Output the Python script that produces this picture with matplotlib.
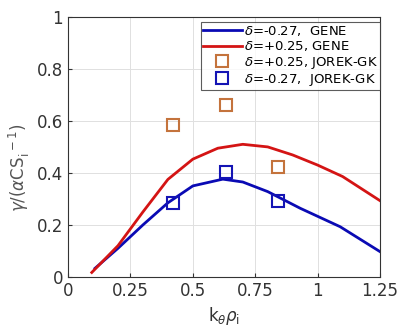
import matplotlib.pyplot as plt

# GENE curves
k_red = [0.095, 0.2, 0.3, 0.4, 0.5, 0.6, 0.7, 0.8, 0.9, 1.0, 1.1, 1.25]
g_red = [0.017, 0.12, 0.25, 0.375, 0.453, 0.495, 0.51, 0.50, 0.469, 0.43, 0.386, 0.293]
k_blue = [0.108, 0.2, 0.3, 0.4, 0.5, 0.62, 0.7, 0.8, 0.93, 1.09, 1.25]
g_blue = [0.033, 0.11, 0.20, 0.285, 0.35, 0.376, 0.365, 0.328, 0.264, 0.193, 0.097]

# JOREK-GK points
k_jorek = [0.42, 0.632, 0.843]
g_jorek_pos = [0.585, 0.66, 0.424]
g_jorek_neg = [0.283, 0.403, 0.293]

fig = plt.figure(figsize=(4.1, 3.32), dpi=100)
ax = fig.add_axes([0.166, 0.166, 0.761, 0.783])

ax.plot(k_blue, g_blue, color="#0a0ab4", lw=2, label=r"$\delta$=-0.27,  GENE")
ax.plot(k_red, g_red, color="#d41414", lw=2, label=r"$\delta$=+0.25, GENE")
ax.plot(k_jorek, g_jorek_pos, ls="none", marker="s", ms=9, mfc="none",
        mec="#c4733c", mew=1.5, label=r"$\delta$=+0.25, JOREK-GK")
ax.plot(k_jorek, g_jorek_neg, ls="none", marker="s", ms=9, mfc="none",
        mec="#1414b4", mew=1.5, label=r"$\delta$=-0.27,  JOREK-GK")

ax.set_xlim(0, 1.25)
ax.set_ylim(0, 1)
ax.set_xticks([0, 0.25, 0.5, 0.75, 1, 1.25])
ax.set_xticklabels(["0", "0.25", "0.5", "0.75", "1", "1.25"])
ax.set_yticks([0, 0.2, 0.4, 0.6, 0.8, 1])
ax.set_yticklabels(["0", "0.2", "0.4", "0.6", "0.8", "1"])
ax.tick_params(direction="in", labelsize=12, colors="#333333", length=3)
for s in ax.spines.values():
    s.set_color("#333333")
    s.set_linewidth(0.8)
ax.grid(True, color="#e0e0e0", lw=0.7)

ax.set_xlabel(r"k$_\theta\rho_{\rm i}$", fontsize=12, color="#333333", labelpad=4)
ax.set_ylabel(r"$\gamma$/($\alpha$CS$_{\rm i}^{\ -1}$)", fontsize=12, color="#555555")
ax.yaxis.set_label_coords(-0.115, 0.42)

leg = ax.legend(loc="upper right", fontsize=9.5, frameon=True, fancybox=False,
                edgecolor="#333333", handlelength=3.0, handletextpad=0.15,
                borderpad=0.15, labelspacing=0.1, borderaxespad=0.0,
                bbox_to_anchor=(1.0, 0.98))
leg.get_frame().set_linewidth(0.8)

fig.savefig("out.png", dpi=100)
